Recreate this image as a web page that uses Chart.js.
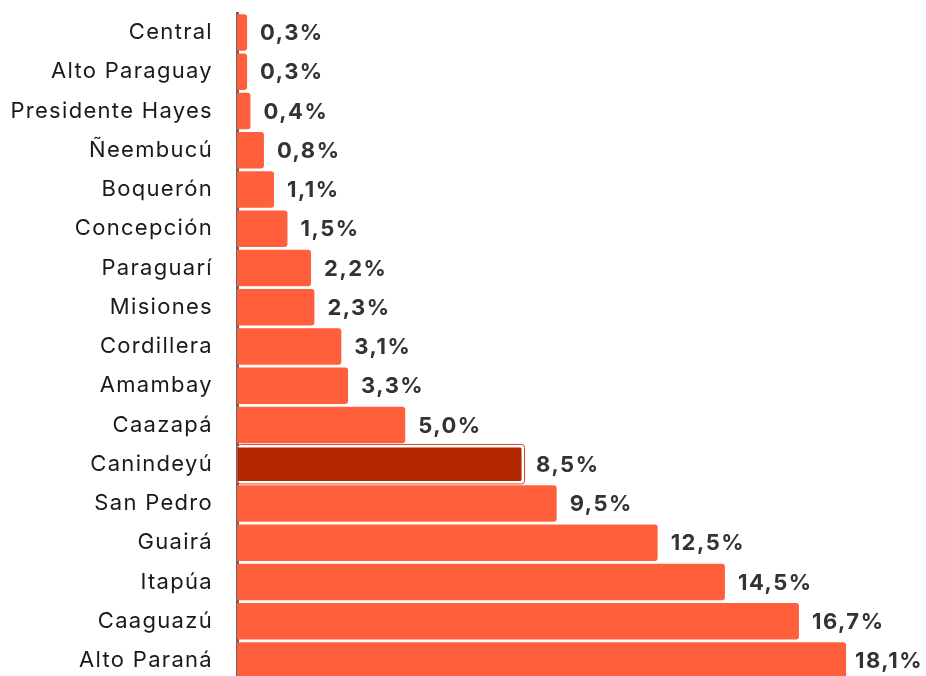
<!DOCTYPE html>
<html>
<head>
<meta charset="utf-8">
<script src="https://cdn.jsdelivr.net/npm/chart.js@4"></script>
<style>
  html, body { margin: 0; padding: 0; background: #fff; overflow: hidden; }
</style>
</head>
<body>
<canvas id="chart" width="926" height="680"></canvas>
<script>
const departments = ['Central', 'Alto Paraguay', 'Presidente Hayes', 'Ñeembucú', 'Boquerón', 'Concepción',
    'Paraguarí', 'Misiones', 'Cordillera', 'Amambay', 'Caazapá', 'Canindeyú', 'San Pedro', 'Guairá',
    'Itapúa', 'Caaguazú', 'Alto Paraná'];
const shares = [0.3, 0.3, 0.4, 0.8, 1.1, 1.5, 2.2, 2.3, 3.1, 3.3, 5.0, 8.5, 9.5, 12.5, 14.5, 16.7, 18.1];
const highlight = 'Canindeyú';

const barColor = '#FF5F3A';
const highlightColor = '#B22600';
const fontFamily = 'Inter, "Liberation Sans", sans-serif';

const fmt = v => v.toFixed(1).replace('.', ',') + '%';

// the reference font runs wider than Inter, so space the letters a little
const spacing = {
    id: 'spacing',
    beforeDraw(chart) {
        chart.ctx.letterSpacing = '1.3px';
    }
};

// value labels at the end of each bar
const valueLabels = {
    id: 'valueLabels',
    afterDatasetsDraw(chart) {
        const ctx = chart.ctx;
        const meta = chart.getDatasetMeta(0);
        ctx.save();
        ctx.font = 'bold 22px ' + fontFamily;
        ctx.letterSpacing = '1.5px';
        ctx.fillStyle = '#333333';
        ctx.textBaseline = 'middle';
        meta.data.forEach((bar, i) => {
            const text = fmt(shares[i]);
            const w = ctx.measureText(text).width;
            let x = bar.x + 13;
            if (x + w > chart.width - 3) x = chart.width - 3 - w;
            ctx.fillText(text, x, bar.y + 1);
        });
        // thin outer line round the highlighted bar
        const hi = departments.indexOf(highlight);
        const b = meta.data[hi];
        ctx.strokeStyle = '#D8462A';
        ctx.lineWidth = 1;
        ctx.beginPath();
        ctx.roundRect(b.base + 0.5, b.y - b.height / 2 - 1.5, b.x - b.base + 1, b.height + 3, 3);
        ctx.stroke();
        ctx.restore();
    }
};

new Chart(document.getElementById('chart'), {
    type: 'bar',
    data: {
        labels: departments,
        datasets: [{
            data: shares,
            backgroundColor: departments.map(d => d === highlight ? highlightColor : barColor),
            borderColor: departments.map(d => d === highlight ? '#ffffff' : barColor),
            borderWidth: departments.map(d => d === highlight ? 1.5 : 0),
            borderRadius: 3,
            borderSkipped: 'start',
            barPercentage: 1,
            categoryPercentage: 0.93
        }]
    },
    options: {
        indexAxis: 'y',
        responsive: false,
        animation: false,
        layout: { padding: { top: 13, right: 16, bottom: 0, left: 0 } },
        plugins: {
            legend: { display: false },
            tooltip: { enabled: false }
        },
        scales: {
            x: {
                display: false,
                min: 0,
                max: 20
            },
            y: {
                afterFit: scale => {
                    scale.width = 237;
                    scale.paddingTop = 0;
                    scale.paddingBottom = 0;
                },
                grid: { display: false, drawTicks: false },
                border: { display: true, color: '#666666', width: 3 },
                ticks: {
                    padding: 24,
                    color: '#1a1a1a',
                    font: { family: fontFamily, size: 22 }
                }
            }
        }
    },
    plugins: [spacing, valueLabels]
});
</script>
</body>
</html>
